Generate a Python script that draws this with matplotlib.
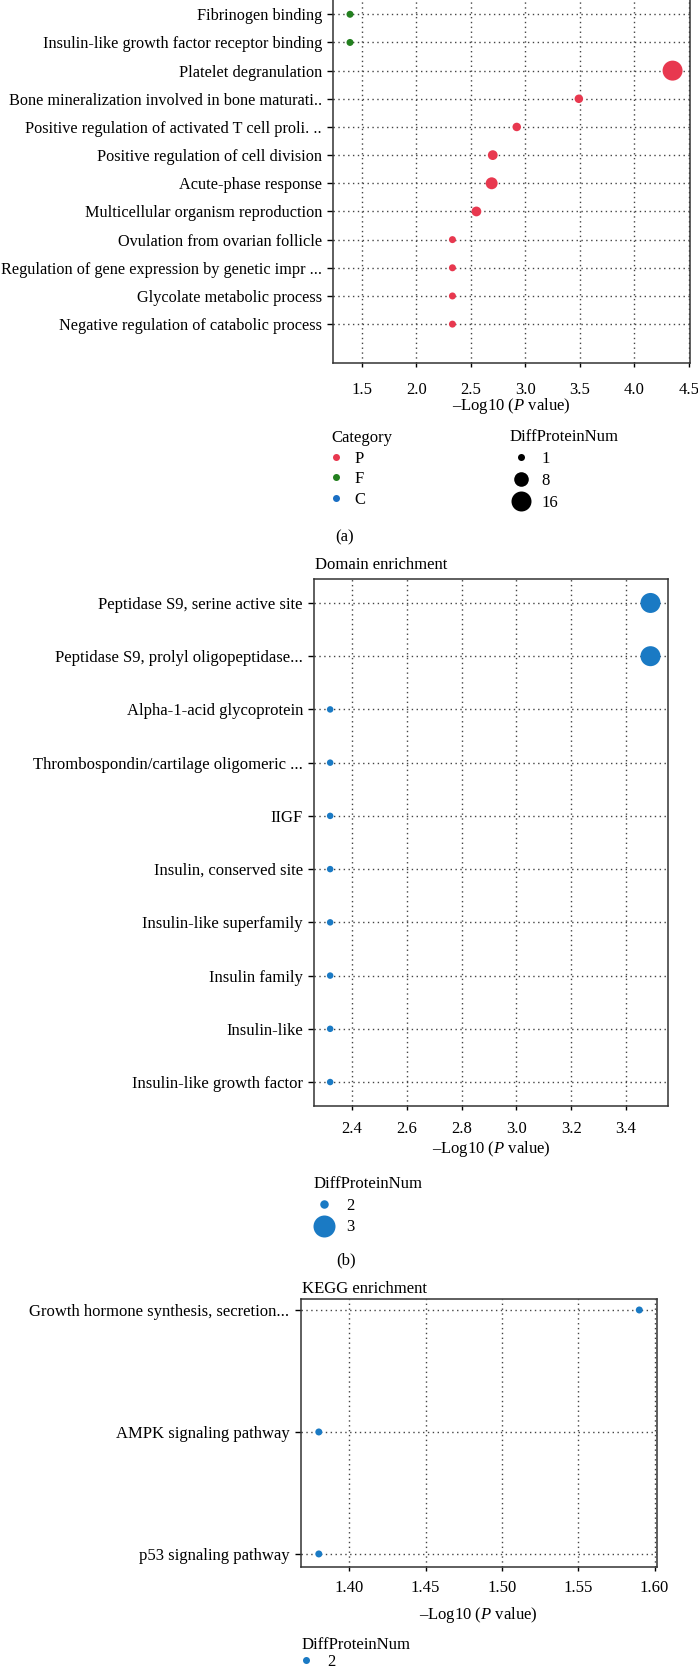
import matplotlib
matplotlib.use("Agg")
import matplotlib.pyplot as plt
from matplotlib.lines import Line2D
import numpy as np

W, H = 698, 1667
DPI = 100
FS = 12

plt.rcParams['font.family'] = ['Liberation Serif', 'DejaVu Serif']
plt.rcParams['mathtext.fontset'] = 'custom'
plt.rcParams['mathtext.rm'] = 'Liberation Serif'
plt.rcParams['mathtext.it'] = 'Liberation Serif:italic'
plt.rcParams['font.size'] = FS
plt.rcParams['legend.fontsize'] = FS
plt.rcParams['legend.title_fontsize'] = FS

# ---- data ----
go_terms = [
    "Fibrinogen binding",
    "Insulin-like growth factor receptor binding",
    "Platelet degranulation",
    "Bone mineralization involved in bone maturati..",
    "Positive regulation of activated T cell proli. ..",
    "Positive regulation of cell division",
    "Acute-phase response",
    "Multicellular organism reproduction",
    "Ovulation from ovarian follicle",
    "Regulation of gene expression by genetic impr ...",
    "Glycolate metabolic process",
    "Negative regulation of catabolic process",
]
go_logp = [1.39, 1.39, 4.35, 3.49, 2.92, 2.70, 2.69, 2.55, 2.33, 2.33, 2.33, 2.33]
go_cat = ['F', 'F', 'P', 'P', 'P', 'P', 'P', 'P', 'P', 'P', 'P', 'P']
go_num = [1, 1, 16, 2, 2, 3, 5, 3, 1, 1, 1, 1]
cat_names = ['P', 'F', 'C']
go_num_legend = [1, 8, 16]

dom_terms = [
    "Peptidase S9, serine active site",
    "Peptidase S9, prolyl oligopeptidase...",
    "Alpha-1-acid glycoprotein",
    "Thrombospondin/cartilage oligomeric ...",
    "IIGF",
    "Insulin, conserved site",
    "Insulin-like superfamily",
    "Insulin family",
    "Insulin-like",
    "Insulin-like growth factor",
]
dom_logp = [3.49, 3.49, 2.32, 2.32, 2.32, 2.32, 2.32, 2.32, 2.32, 2.32]
dom_num = [3, 3, 2, 2, 2, 2, 2, 2, 2, 2]
dom_num_legend = [2, 3]

kegg_terms = [
    "Growth hormone synthesis, secretion...",
    "AMPK signaling pathway",
    "p53 signaling pathway",
]
kegg_logp = [1.59, 1.38, 1.38]
kegg_num = [2, 2, 2]
kegg_num_legend = [2]

# ---- styles ----
cat_colors = {'P': '#E8384F', 'F': '#23801F', 'C': '#1A6FC4'}
blue = '#1A7AC4'
grid_kw = dict(color='#444444', linestyle=(0, (1, 2.5)), linewidth=1.0)
xlab = r'–Log10 ($\mathit{P}$ value)'


def px2pt(d):
    return d * 72.0 / DPI


def go_diam(n):
    return np.sqrt(25.6 + 23.4 * np.asarray(n, dtype=float))


dom_diam = {2: 6.5, 3: 20.0}
kegg_diam = {2: 7.0}


def fx(x):
    return x / W


def fy(y):
    return 1 - y / H


def place(x0, y0, x1, y1):
    return [fx(x0), fy(y1), fx(x1) - fx(x0), fy(y0) - fy(y1)]


def style_axes(ax, xpad=5, ylabsize=FS):
    for s in ax.spines.values():
        s.set_color('#333333')
        s.set_linewidth(1.1)
    ax.grid(True, **grid_kw)
    ax.set_axisbelow(True)
    ax.tick_params(axis='y', length=4.5, width=1, pad=3.5, labelsize=ylabsize)
    ax.tick_params(axis='x', length=3, width=1, pad=xpad)


def num_legend(handles, labels, x, y, hl, tp, ls):
    return fig.legend(handles, labels, title='DiffProteinNum', loc='upper left',
                      bbox_to_anchor=(fx(x), fy(y)), frameon=False,
                      alignment='left', handlelength=hl, handletextpad=tp,
                      labelspacing=ls, borderpad=0, borderaxespad=0)


fig = plt.figure(figsize=(W / DPI, H / DPI), dpi=DPI)

# ---- (a) GO ----
ax1 = fig.add_axes(place(333, -6, 690, 363))
y1 = np.arange(len(go_terms))
ax1.scatter(go_logp, y1, s=px2pt(go_diam(go_num)) ** 2,
            c=[cat_colors[c] for c in go_cat], linewidths=0, zorder=3)
ax1.set_yticks(y1)
ax1.set_yticklabels(go_terms)
ax1.set_ylim(12.38, -0.72)
ax1.set_xlim(1.234, 4.51)
ax1.set_xticks([1.5, 2.0, 2.5, 3.0, 3.5, 4.0, 4.5])
ax1.set_xlabel(xlab, labelpad=-2)
style_axes(ax1, xpad=11, ylabsize=11.7)

h_cat = [Line2D([], [], marker='o', ls='', color=cat_colors[c],
                markersize=px2pt(7), markeredgewidth=0) for c in cat_names]
fig.legend(h_cat, cat_names, title='Category', loc='upper left',
           bbox_to_anchor=(fx(331), fy(430)), frameon=False,
           alignment='left', handlelength=0.6, handletextpad=0.8,
           labelspacing=0.28, borderpad=0, borderaxespad=0)
h_num = [Line2D([], [], marker='o', ls='', color='black',
                markersize=px2pt(go_diam(n)), markeredgewidth=0)
         for n in go_num_legend]
num_legend(h_num, [str(n) for n in go_num_legend], 510, 429, 1.3, 0.6, 0.36)
fig.text(fx(345), fy(537), '(a)', ha='center', va='center')

# ---- (b) Domain ----
fig.text(fx(315), fy(565), 'Domain enrichment', ha='left', va='center')
ax2 = fig.add_axes(place(314, 579, 668, 1106))
y2 = np.arange(len(dom_terms))
ax2.scatter(dom_logp, y2, s=[px2pt(dom_diam[n]) ** 2 for n in dom_num],
            c=blue, linewidths=0, zorder=3)
ax2.set_yticks(y2)
ax2.set_yticklabels(dom_terms)
ax2.set_ylim(9.45, -0.45)
ax2.set_xlim(2.261, 3.554)
ax2.set_xticks([2.4, 2.6, 2.8, 3.0, 3.2, 3.4])
ax2.set_xlabel(xlab, labelpad=1.5)
style_axes(ax2, xpad=8)

h_dom = [Line2D([], [], marker='o', ls='', color=blue,
                markersize=px2pt(dom_diam[n] + 2), markeredgewidth=0)
         for n in dom_num_legend]
num_legend(h_dom, [str(n) for n in dom_num_legend], 314, 1176, 1.25, 0.7, 0.34)
fig.text(fx(346), fy(1260), '(b)', ha='center', va='center')

# ---- (c) KEGG ----
fig.text(fx(302), fy(1289), 'KEGG enrichment', ha='left', va='center')
ax3 = fig.add_axes(place(300.5, 1299, 657, 1567))
y3 = np.arange(len(kegg_terms))
ax3.scatter(kegg_logp, y3, s=[px2pt(kegg_diam[n]) ** 2 for n in kegg_num],
            c=blue, linewidths=0, zorder=3)
ax3.set_yticks(y3)
ax3.set_yticklabels(kegg_terms)
ax3.set_ylim(2.107, -0.09)
ax3.set_xlim(1.368, 1.6016)
ax3.set_xticks([1.40, 1.45, 1.50, 1.55, 1.60])
ax3.set_xticklabels(['1.40', '1.45', '1.50', '1.55', '1.60'])
ax3.set_xlabel(xlab, labelpad=6.5)
style_axes(ax3, xpad=6.5)

h_kegg = [Line2D([], [], marker='o', ls='', color=blue,
                 markersize=px2pt(kegg_diam[n]), markeredgewidth=0)
          for n in kegg_num_legend]
num_legend(h_kegg, [str(n) for n in kegg_num_legend], 302, 1637, 0.45, 1.05, 0.05)

fig.savefig('out.png', dpi=DPI)
